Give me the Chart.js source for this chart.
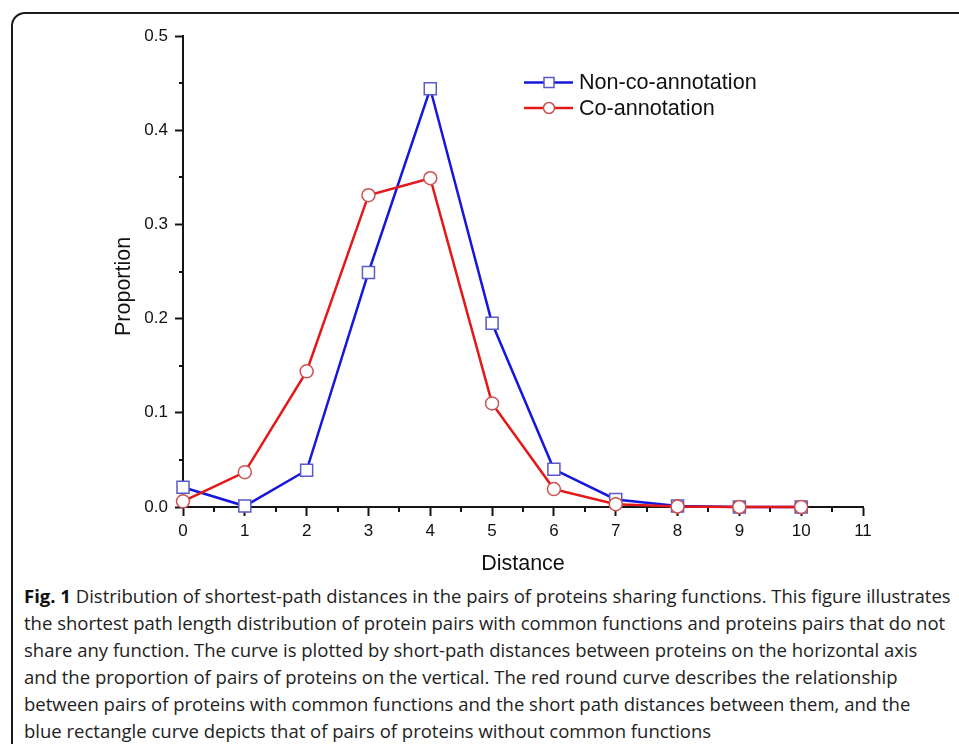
<!DOCTYPE html>
<html>
<head>
<meta charset="utf-8">
<script src="https://cdn.jsdelivr.net/npm/chart.js@4.4.1/dist/chart.umd.min.js"></script>
<style>
  html, body { margin: 0; padding: 0; background: #fff; }
  body { width: 959px; height: 744px; position: relative; overflow: hidden; }
  #frame {
    position: absolute; left: 11px; top: 12px; width: 1000px; height: 800px;
    border: 2px solid #1a1a1a; border-top-left-radius: 14px;
  }
  #chart { position: absolute; left: 0; top: 0; }
  #caption {
    position: absolute; left: 24px; top: 582px; width: 935px;
    font-family: "Open Sans", sans-serif; font-size: 18.5px; line-height: 27px;
    color: #222; white-space: nowrap;
  }
  #caption b { color: #111; }
</style>
</head>
<body>
<div id="frame"></div>
<canvas id="chart" width="959" height="581"></canvas>
<div id="caption">
  <b>Fig. 1</b> Distribution of shortest-path distances in the pairs of proteins sharing functions. This figure illustrates<br>
  the shortest path length distribution of protein pairs with common functions and proteins pairs that do not<br>
  share any function. The curve is plotted by short-path distances between proteins on the horizontal axis<br>
  and the proportion of pairs of proteins on the vertical. The red round curve describes the relationship<br>
  between pairs of proteins with common functions and the short path distances between them, and the<br>
  blue rectangle curve depicts that of pairs of proteins without common functions
</div>
<script>
// Data
const distances = [0, 1, 2, 3, 4, 5, 6, 7, 8, 9, 10];
const nonCoAnnotation = [0.021, 0.001, 0.039, 0.249, 0.444, 0.195, 0.040, 0.008, 0.001, 0, 0];
const coAnnotation = [0.006, 0.037, 0.144, 0.331, 0.349, 0.110, 0.019, 0.003, 0.0005, 0, 0];
const seriesLabels = ["Non-co-annotation", "Co-annotation"];
const xRange = [0, 11];
const yRange = [0, 0.5];

const BLUE = "#1616dc";
const BLUE_MARK = "#5a5ac8";
const RED = "#e41818";
const RED_MARK = "#cc5252";
const AXIS = "#151515";

function toPoints(values) {
    return distances.map((d, i) => ({ x: d, y: values[i] }));
}

// Short minor ticks between the labelled ones
const minorTicks = {
    id: "minorTicks",
    beforeDatasetsDraw(chart) {
        const { ctx, chartArea, scales } = chart;
        ctx.save();
        ctx.strokeStyle = AXIS;
        ctx.lineWidth = 2;
        ctx.beginPath();
        for (let v = xRange[0] + 0.5; v < xRange[1]; v += 1) {
            const px = Math.round(scales.x.getPixelForValue(v));
            ctx.moveTo(px, chartArea.bottom);
            ctx.lineTo(px, chartArea.bottom + 5);
        }
        for (let v = yRange[0] + 0.05; v < yRange[1]; v += 0.1) {
            const py = Math.round(scales.y.getPixelForValue(v));
            ctx.moveTo(chartArea.left - 4, py);
            ctx.lineTo(chartArea.left, py);
        }
        ctx.stroke();
        ctx.restore();
    }
};

// Legend with line + marker samples, like the original plot
const lineLegend = {
    id: "lineLegend",
    afterDraw(chart) {
        const { ctx } = chart;
        const x0 = 524, x1 = 573, xm = 549, xt = 579;
        const rows = [82.5, 108];
        ctx.save();
        chart.data.datasets.forEach((ds, i) => {
            const y = rows[i];
            ctx.strokeStyle = ds.borderColor;
            ctx.lineWidth = 2.5;
            ctx.beginPath();
            ctx.moveTo(x0, y);
            ctx.lineTo(x1, y);
            ctx.stroke();
            ctx.fillStyle = "#fff";
            ctx.strokeStyle = ds.pointBorderColor;
            ctx.lineWidth = 1.5;
            ctx.beginPath();
            if (ds.pointStyle === "rect") {
                ctx.rect(xm - 5, y - 5, 10, 10);
            } else {
                ctx.arc(xm, y, 5.5, 0, Math.PI * 2);
            }
            ctx.fill();
            ctx.stroke();
            ctx.fillStyle = "#111";
            ctx.font = "21.6px 'Liberation Sans', Arial, sans-serif";
            ctx.textBaseline = "middle";
            ctx.textAlign = "left";
            ctx.fillText(ds.label, xt, y + 1);
        });
        ctx.restore();
    }
};

const tickFont = { family: "'Liberation Sans', Arial, sans-serif", size: 17 };
const titleFont = { family: "'Liberation Sans', Arial, sans-serif", size: 21.5 };

new Chart(document.getElementById("chart"), {
    type: "line",
    data: {
        datasets: [
            {
                label: seriesLabels[0],
                data: toPoints(nonCoAnnotation),
                borderColor: BLUE,
                borderWidth: 2.5,
                pointStyle: "rect",
                pointRadius: 8.5,
                pointBorderColor: BLUE_MARK,
                pointBackgroundColor: "#fff",
                pointBorderWidth: 1.5,
                tension: 0,
                clip: false,
                order: 1
            },
            {
                label: seriesLabels[1],
                data: toPoints(coAnnotation),
                borderColor: RED,
                borderWidth: 2.5,
                pointStyle: "circle",
                pointRadius: 6.5,
                pointBorderColor: RED_MARK,
                pointBackgroundColor: "#fff",
                pointBorderWidth: 1.5,
                tension: 0,
                clip: false,
                order: 0
            }
        ]
    },
    options: {
        responsive: false,
        animation: false,
        devicePixelRatio: 1,
        layout: { padding: { left: 107, top: 36, right: 96, bottom: 0 } },
        plugins: {
            legend: { display: false },
            tooltip: { enabled: false }
        },
        scales: {
            x: {
                type: "linear",
                min: xRange[0],
                max: xRange[1],
                afterFit(scale) { scale.height = 74; },
                border: { display: true, color: AXIS, width: 2 },
                grid: { drawOnChartArea: false, drawTicks: true, tickLength: 9, tickWidth: 2, tickColor: AXIS },
                ticks: { stepSize: 1, color: "#111", font: tickFont, padding: 5, maxRotation: 0 },
                title: { display: true, text: "Distance", color: "#111", font: titleFont }
            },
            y: {
                min: yRange[0],
                max: yRange[1],
                afterFit(scale) { scale.width = 76; },
                border: { display: true, color: AXIS, width: 2 },
                grid: { drawOnChartArea: false, drawTicks: true, tickLength: 8, tickWidth: 2, tickColor: AXIS },
                ticks: {
                    stepSize: 0.1, color: "#111", font: tickFont, padding: 7,
                    callback: v => v.toFixed(1)
                },
                title: { display: true, text: "Proportion     ", color: "#111", font: titleFont }
            }
        }
    },
    plugins: [minorTicks, lineLegend]
});
</script>
</body>
</html>
